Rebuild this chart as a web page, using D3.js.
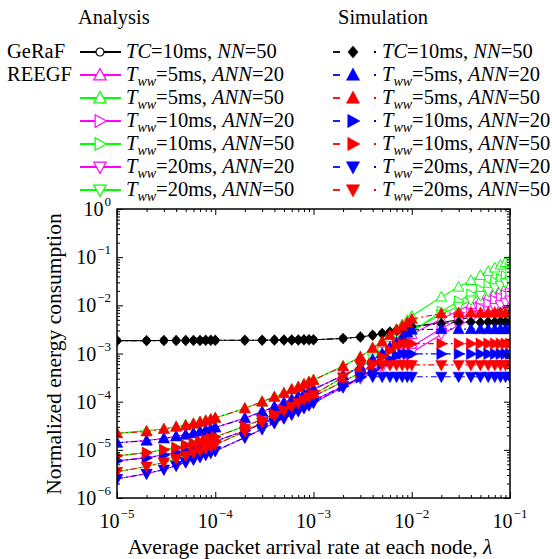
<!DOCTYPE html>
<html><head><meta charset="utf-8">
<script src="https://cdn.jsdelivr.net/npm/d3@7"></script>
<style>body{margin:0;background:#fff} text{font-family:"Liberation Serif","Times New Roman",serif;fill:#000}</style>
</head><body><svg id="c" width="552" height="559"></svg>
<script>
const lambda = [
1e-5,2e-5,3e-5,4e-5,5e-5,6e-5,7e-5,8e-5,9e-5,
1e-4,2e-4,3e-4,4e-4,5e-4,6e-4,7e-4,8e-4,9e-4,
1e-3,2e-3,3e-3,4e-3,5e-3,6e-3,7e-3,8e-3,9e-3,
1e-2,2e-2,3e-2,4e-2,5e-2,6e-2,7e-2,8e-2,9e-2,
1e-1];
const xTickLabels = ["−5","−4","−3","−2","−1"];
const yTickLabels = ["0","−1","−2","−3","−4","−5","−6"];

const geraf_ana = [
1.85e-3,1.85e-3,1.86e-3,1.86e-3,1.87e-3,1.87e-3,1.87e-3,1.88e-3,1.88e-3,
1.88e-3,1.89e-3,1.89e-3,1.90e-3,1.90e-3,1.91e-3,1.91e-3,1.92e-3,1.92e-3,
1.93e-3,2.05e-3,2.2e-3,2.4e-3,2.6e-3,2.8e-3,3.0e-3,3.2e-3,3.4e-3,
3.6e-3,4.4e-3,5.0e-3,5.7e-3,6.5e-3,7.5e-3,8.5e-3,9.5e-3,1.05e-2,
1.15e-2];
const geraf_sim = [
1.85e-3,1.85e-3,1.86e-3,1.86e-3,1.87e-3,1.87e-3,1.87e-3,1.88e-3,1.88e-3,
1.88e-3,1.89e-3,1.89e-3,1.90e-3,1.90e-3,1.91e-3,1.91e-3,1.92e-3,1.92e-3,
1.93e-3,2.05e-3,2.2e-3,2.4e-3,2.6e-3,2.8e-3,3.0e-3,3.2e-3,3.4e-3,
3.6e-3,4.2e-3,4.5e-3,4.5e-3,4.4e-3,4.5e-3,4.5e-3,4.6e-3,4.5e-3,
4.5e-3];
const r5_20_ana = [
1.4e-5,1.56e-5,1.73e-5,1.9e-5,2.07e-5,2.23e-5,2.4e-5,2.57e-5,2.73e-5,
2.9e-5,4.6e-5,6.2e-5,7.9e-5,9.6e-5,1.12e-4,1.29e-4,1.46e-4,1.63e-4,
1.8e-4,3.5e-4,5.3e-4,7.5e-4,1.0e-3,1.3e-3,1.6e-3,1.9e-3,2.2e-3,
2.5e-3,5.2e-3,7.8e-3,1.04e-2,1.3e-2,1.56e-2,1.82e-2,2.08e-2,2.34e-2,
2.6e-2];
const r5_20_sim = [
1.4e-5,1.55e-5,1.72e-5,1.9e-5,2.05e-5,2.2e-5,2.4e-5,2.55e-5,2.7e-5,
2.9e-5,4.5e-5,6.2e-5,7.8e-5,9.5e-5,1.1e-4,1.28e-4,1.45e-4,1.6e-4,
1.8e-4,3.5e-4,5.3e-4,7.5e-4,1.0e-3,1.35e-3,1.7e-3,2.2e-3,2.7e-3,
3.1e-3,3.2e-3,3.2e-3,3.2e-3,3.2e-3,3.2e-3,3.2e-3,3.2e-3,3.2e-3,
3.2e-3];
const r5_50_ana = [
2.2e-5,2.5e-5,2.7e-5,3.0e-5,3.3e-5,3.5e-5,3.8e-5,4.1e-5,4.3e-5,
4.6e-5,7.3e-5,9.9e-5,1.26e-4,1.52e-4,1.78e-4,2.05e-4,2.3e-4,2.6e-4,
2.85e-4,5.5e-4,8.5e-4,1.3e-3,1.8e-3,2.5e-3,3.2e-3,4.0e-3,4.9e-3,
6.0e-3,1.5e-2,2.4e-2,3.3e-2,4.2e-2,5.1e-2,6.0e-2,6.9e-2,7.8e-2,
8.7e-2];
const r5_50_sim = [
2.2e-5,2.4e-5,2.7e-5,3.0e-5,3.2e-5,3.5e-5,3.8e-5,4.0e-5,4.3e-5,
4.6e-5,7.2e-5,1.0e-4,1.25e-4,1.5e-4,1.8e-4,2.0e-4,2.3e-4,2.55e-4,
2.8e-4,5.4e-4,8.5e-4,1.3e-3,1.75e-3,2.4e-3,3.1e-3,3.7e-3,4.4e-3,
5.2e-3,6.8e-3,7.0e-3,7.1e-3,7.0e-3,7.0e-3,7.1e-3,7.0e-3,7.0e-3,
7.1e-3];
const r10_20_ana = [
5.9e-6,6.9e-6,7.9e-6,8.9e-6,9.9e-6,1.1e-5,1.2e-5,1.3e-5,1.4e-5,
1.5e-5,2.5e-5,3.5e-5,4.5e-5,5.5e-5,6.5e-5,7.6e-5,8.6e-5,9.6e-5,
1.06e-4,2.1e-4,3.2e-4,4.5e-4,6.0e-4,7.5e-4,9.0e-4,1.05e-3,1.2e-3,
1.4e-3,3.3e-3,5.1e-3,7.0e-3,8.9e-3,1.08e-2,1.27e-2,1.46e-2,1.65e-2,
1.85e-2];
const r10_20_sim = [
5.9e-6,6.8e-6,7.8e-6,8.8e-6,9.8e-6,1.08e-5,1.18e-5,1.3e-5,1.4e-5,
1.5e-5,2.5e-5,3.5e-5,4.5e-5,5.4e-5,6.5e-5,7.5e-5,8.5e-5,9.5e-5,
1.05e-4,2.1e-4,3.2e-4,4.5e-4,6.0e-4,7.5e-4,9.0e-4,9.8e-4,9.8e-4,
9.8e-4,9.8e-4,9.8e-4,9.8e-4,9.8e-4,9.8e-4,9.8e-4,9.8e-4,9.8e-4,
9.8e-4];
const r10_50_ana = [
7.5e-6,8.8e-6,1.0e-5,1.12e-5,1.25e-5,1.37e-5,1.49e-5,1.61e-5,1.74e-5,
1.86e-5,3.1e-5,4.3e-5,5.5e-5,6.8e-5,8.0e-5,9.2e-5,1.05e-4,1.17e-4,
1.29e-4,2.6e-4,4.0e-4,6.0e-4,8.5e-4,1.15e-3,1.5e-3,1.9e-3,2.3e-3,
2.8e-3,7.5e-3,1.22e-2,1.7e-2,2.15e-2,2.6e-2,3.1e-2,3.6e-2,4.1e-2,
4.7e-2];
const r10_50_sim = [
7.5e-6,8.7e-6,1.0e-5,1.1e-5,1.25e-5,1.35e-5,1.5e-5,1.6e-5,1.72e-5,
1.85e-5,3.1e-5,4.3e-5,5.5e-5,6.7e-5,8.0e-5,9.2e-5,1.04e-4,1.16e-4,
1.28e-4,2.6e-4,4.0e-4,6.0e-4,8.5e-4,1.15e-3,1.45e-3,1.6e-3,1.6e-3,
1.6e-3,1.6e-3,1.6e-3,1.6e-3,1.6e-3,1.6e-3,1.6e-3,1.6e-3,1.6e-3,
1.6e-3];
const r20_20_ana = [
2.5e-6,3.2e-6,3.9e-6,4.7e-6,5.5e-6,6.3e-6,7.1e-6,7.9e-6,8.7e-6,
9.5e-6,1.8e-5,2.7e-5,3.6e-5,4.5e-5,5.4e-5,6.4e-5,7.4e-5,8.4e-5,
9.5e-5,2.0e-4,3.0e-4,4.0e-4,5.0e-4,6.0e-4,7.1e-4,8.2e-4,9.3e-4,
1.05e-3,2.5e-3,3.8e-3,5.0e-3,6.3e-3,7.6e-3,8.9e-3,1.02e-2,1.15e-2,
1.28e-2];
const r20_20_sim = [
2.5e-6,3.2e-6,3.9e-6,4.7e-6,5.5e-6,6.3e-6,7.1e-6,7.9e-6,8.7e-6,
9.5e-6,1.8e-5,2.7e-5,3.6e-5,4.5e-5,5.4e-5,6.4e-5,7.4e-5,8.4e-5,
9.5e-5,2.0e-4,3.3e-4,3.3e-4,3.3e-4,3.3e-4,3.3e-4,3.3e-4,3.3e-4,
3.3e-4,3.3e-4,3.3e-4,3.3e-4,3.3e-4,3.3e-4,3.3e-4,3.3e-4,3.3e-4,
3.3e-4];
const r20_50_ana = [
3.5e-6,4.5e-6,5.5e-6,6.5e-6,7.6e-6,8.6e-6,9.6e-6,1.07e-5,1.17e-5,
1.28e-5,2.4e-5,3.7e-5,5.0e-5,6.4e-5,7.8e-5,9.3e-5,1.08e-4,1.24e-4,
1.4e-4,3.2e-4,5.5e-4,8.0e-4,1.1e-3,1.45e-3,1.8e-3,2.2e-3,2.6e-3,
3.0e-3,6.5e-3,9.5e-3,1.28e-2,1.6e-2,1.95e-2,2.3e-2,2.6e-2,2.95e-2,
3.3e-2];
const r20_50_sim = [
3.5e-6,4.5e-6,5.5e-6,6.5e-6,7.5e-6,8.6e-6,9.6e-6,1.07e-5,1.17e-5,
1.28e-5,2.4e-5,3.7e-5,5.0e-5,6.4e-5,7.8e-5,9.3e-5,1.08e-4,1.24e-4,
1.4e-4,3.2e-4,5.8e-4,5.8e-4,5.8e-4,5.8e-4,5.8e-4,5.8e-4,5.8e-4,
5.8e-4,5.8e-4,5.8e-4,5.8e-4,5.8e-4,5.8e-4,5.8e-4,5.8e-4,5.8e-4,
5.8e-4];

const series = [
 {ana:geraf_ana, sim:geraf_sim, ac:"#000000", sc:"#000000", am:"circle", sm:"diamond", lab:[["TC",1],["=10ms, ",0],["NN",1],["=50",0]], group:"GeRaF"},
 {ana:r5_20_ana, sim:r5_20_sim, ac:"#ff00ff", sc:"#0000ff", am:"up", sm:"up", tww:"5", ann:"20", group:"REEGF"},
 {ana:r5_50_ana, sim:r5_50_sim, ac:"#00ff00", sc:"#ff0000", am:"up", sm:"up", tww:"5", ann:"50"},
 {ana:r10_20_ana, sim:r10_20_sim, ac:"#ff00ff", sc:"#0000ff", am:"right", sm:"right", tww:"10", ann:"20"},
 {ana:r10_50_ana, sim:r10_50_sim, ac:"#00ff00", sc:"#ff0000", am:"right", sm:"right", tww:"10", ann:"50"},
 {ana:r20_20_ana, sim:r20_20_sim, ac:"#ff00ff", sc:"#0000ff", am:"down", sm:"down", tww:"20", ann:"20"},
 {ana:r20_50_ana, sim:r20_50_sim, ac:"#00ff00", sc:"#ff0000", am:"down", sm:"down", tww:"20", ann:"50"}
];

const svg = d3.select("#c");
const L=117,R=510,T=209,B=498;
const x = d3.scaleLog().domain([1e-5,1e-1]).range([L,R]);
const y = d3.scaleLog().domain([1e-6,1]).range([B,T]);

function markerPath(type, r){
  if(type==="circle"){ return d3.symbol(d3.symbolCircle, Math.PI*r*r)(); }
  if(type==="diamond"){ return `M0,${-r}L${r*0.85},0L0,${r}L${-r*0.85},0Z`; }
  const h=r, w=r*0.95;
  if(type==="up") return `M0,${-h}L${w},${h*0.75}L${-w},${h*0.75}Z`;
  if(type==="down") return `M0,${h}L${w},${-h*0.75}L${-w},${-h*0.75}Z`;
  if(type==="right") return `M${h},0L${-h*0.75},${w}L${-h*0.75},${-w}Z`;
}

svg.append("defs").append("clipPath").attr("id","clip").append("rect")
  .attr("x",L).attr("y",T).attr("width",R-L).attr("height",B-T);
const plot = svg.append("g").attr("clip-path","url(#clip)");

const line = d3.line().x((d,i)=>x(lambda[i])).y(d=>y(d));

series.forEach(s=>{
  plot.append("path").attr("d",line(s.ana)).attr("fill","none").attr("stroke",s.ac).attr("stroke-width",1.1);
});
series.forEach(s=>{
  plot.append("g").selectAll("path").data(s.ana).join("path")
    .attr("transform",(d,i)=>`translate(${x(lambda[i])},${y(d)})`)
    .attr("d",markerPath(s.am, s.am==="circle"?3.5:5.5))
    .attr("fill","#fff").attr("stroke",s.ac).attr("stroke-width",1);
});
series.forEach(s=>{
  plot.append("path").attr("d",line(s.sim)).attr("fill","none").attr("stroke",s.sc)
    .attr("stroke-width",1.1).attr("stroke-dasharray","6,3,2,3");
});
series.forEach(s=>{
  plot.append("g").selectAll("path").data(s.sim).join("path")
    .attr("transform",(d,i)=>`translate(${x(lambda[i])},${y(d)})`)
    .attr("d",markerPath(s.sm, s.sm==="diamond"?5.5:6))
    .attr("fill",s.sc).attr("stroke",s.sc).attr("stroke-width",0.5);
});

const decX = d3.range(-5,0).map(e=>Math.pow(10,e));
const minX = [];
for(let e=-5;e<-1;e++) for(let k=2;k<10;k++) minX.push(k*Math.pow(10,e));
const decY = d3.range(-6,1).map(e=>Math.pow(10,e));
const minY = [];
for(let e=-6;e<0;e++) for(let k=2;k<10;k++) minY.push(k*Math.pow(10,e));

function ax(gen, pos, vals, len){
  svg.append("g").attr("transform",pos)
    .call(gen.tickValues(vals).tickSizeInner(-len).tickSizeOuter(0).tickFormat(""))
    .call(g=>{g.select(".domain").remove(); g.selectAll("text").remove();
              g.selectAll("line").attr("stroke","#000").attr("stroke-width",1);});
}
ax(d3.axisBottom(x), `translate(0,${B})`, decX, 6);
ax(d3.axisBottom(x), `translate(0,${B})`, minX, 3);
ax(d3.axisTop(x), `translate(0,${T})`, decX, 6);
ax(d3.axisTop(x), `translate(0,${T})`, minX, 3);
ax(d3.axisLeft(y), `translate(${L},0)`, decY, 6);
ax(d3.axisLeft(y), `translate(${L},0)`, minY, 3);
ax(d3.axisRight(y), `translate(${R},0)`, decY, 6);
ax(d3.axisRight(y), `translate(${R},0)`, minY, 3);
svg.append("rect").attr("x",L).attr("y",T).attr("width",R-L).attr("height",B-T)
  .attr("fill","none").attr("stroke","#000").attr("stroke-width",1.5);

function powLabel(cx, baseY, exp, anchor){
  const base = svg.append("text").attr("y",baseY).attr("font-size",20).text("10");
  const sup = svg.append("text").attr("y",baseY-10).attr("font-size",13).text(exp);
  const wb = base.node().getComputedTextLength();
  const ws = sup.node().getComputedTextLength();
  const total = wb + 1 + ws;
  const x0 = anchor==="middle" ? cx - total/2 : cx - total;
  base.attr("x",x0);
  sup.attr("x",x0 + wb + 1);
}
decX.forEach((v,i)=>powLabel(x(v), 528, xTickLabels[i], "middle"));
decY.slice().reverse().forEach((v,i)=>powLabel(111, y(v)+7, yTickLabels[i], "end"));

const xt = svg.append("text").attr("x",310).attr("y",554).attr("text-anchor","middle").attr("font-size",21.5);
xt.append("tspan").text("Average packet arrival rate at each node, ");
xt.append("tspan").attr("font-style","italic").text("λ");
svg.append("text").attr("transform","translate(61,354) rotate(-90)").attr("text-anchor","middle")
  .attr("font-size",21.5).text("Normalized energy consumption");

svg.append("text").attr("x",78).attr("y",24).attr("font-size",20.5).text("Analysis");
svg.append("text").attr("x",338).attr("y",24).attr("font-size",20.5).text("Simulation");
const rowY = [52,75,98,121,144,167,190];
function labelText(g, xPos, yPos, s){
  const t = g.append("text").attr("x",xPos).attr("y",yPos+6).attr("font-size",20.5);
  if(s.lab){
    s.lab.forEach(([str,it])=>t.append("tspan").attr("font-style",it?"italic":null).text(str));
  } else {
    t.append("tspan").attr("font-style","italic").text("T");
    t.append("tspan").attr("font-style","italic").attr("font-size",14).attr("dy",5).text("ww");
    t.append("tspan").attr("dy",-5).text("=" + s.tww + "ms, ");
    t.append("tspan").attr("font-style","italic").text("ANN");
    t.append("tspan").text("=" + s.ann);
  }
}
series.forEach((s,i)=>{
  const yy = rowY[i];
  if(s.group) svg.append("text").attr("x",7).attr("y",yy+6).attr("font-size",20.5).text(s.group);
  svg.append("line").attr("x1",80).attr("x2",121).attr("y1",yy).attr("y2",yy).attr("stroke",s.ac).attr("stroke-width",1.8);
  svg.append("path").attr("transform",`translate(100,${yy})`).attr("d",markerPath(s.am, s.am==="circle"?4:6.5))
    .attr("fill","#fff").attr("stroke",s.ac).attr("stroke-width",1.2);
  labelText(svg, 126, yy, s);
  svg.append("line").attr("x1",333).attr("x2",340).attr("y1",yy).attr("y2",yy).attr("stroke",s.sc).attr("stroke-width",1.8);
  svg.append("line").attr("x1",374).attr("x2",376).attr("y1",yy).attr("y2",yy).attr("stroke",s.sc).attr("stroke-width",1.8);
  svg.append("path").attr("transform",`translate(353,${yy})`).attr("d",markerPath(s.sm, s.sm==="diamond"?6:7))
    .attr("fill",s.sc).attr("stroke",s.sc).attr("stroke-width",0.5);
  labelText(svg, 382, yy, s);
});
</script></body></html>
